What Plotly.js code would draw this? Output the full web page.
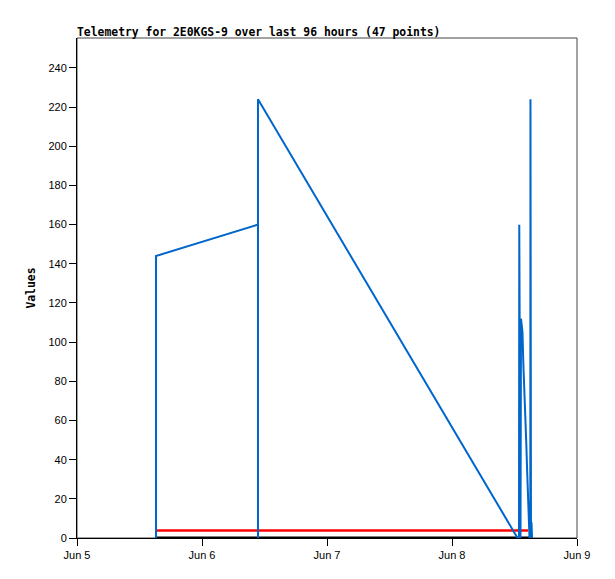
<!DOCTYPE html>
<html>
<head>
<meta charset="utf-8">
<script src="https://cdn.plot.ly/plotly-3.0.1.min.js"></script>
<style>
  html, body { margin: 0; padding: 0; background: #ffffff; }
  #chart { width: 615px; height: 579px; }
</style>
</head>
<body>
<div id="chart"></div>
<script>
// telemetry readings (blue)
const blueTimes = [
  '2024-06-05 15:10', '2024-06-05 15:10', '2024-06-06 10:45', '2024-06-06 10:45',
  '2024-06-06 10:45', '2024-06-08 12:35', '2024-06-08 12:52', '2024-06-08 12:55',
  '2024-06-08 13:09', '2024-06-08 13:15', '2024-06-08 13:32', '2024-06-08 13:41',
  '2024-06-08 13:55', '2024-06-08 14:07', '2024-06-08 14:16', '2024-06-08 14:26',
  '2024-06-08 14:38', '2024-06-08 14:47', '2024-06-08 14:53', '2024-06-08 15:02',
  '2024-06-08 15:04', '2024-06-08 15:10', '2024-06-08 15:16', '2024-06-08 15:22'
];
const blueValues = [
  0, 144, 160, 0,
  224, 0, 0, 160,
  0, 112, 105, 90,
  76, 63, 48, 34,
  20, 6, 0, 0,
  224, 0, 8, 0
];

// red and black channels
const redTimes = ['2024-06-05 15:10', '2024-06-08 14:35'];
const redValues = [3.8, 3.8];
const blackTimes = ['2024-06-05 15:10', '2024-06-08 15:22'];
const blackValues = [0, 0];

// axis setup
const xStart = '2024-06-05';
const xEnd = '2024-06-09';
const yMax = 255.3;
const titleText = 'Telemetry for 2E0KGS-9 over last 96 hours (47 points)';
const yTitle = 'Values';

const traceRed = {
  x: redTimes, y: redValues, type: 'scatter', mode: 'lines',
  line: { color: '#ff0000', width: 2.5 }, hoverinfo: 'skip'
};
const traceBlack = {
  x: blackTimes, y: blackValues, type: 'scatter', mode: 'lines',
  line: { color: '#000000', width: 3 }, hoverinfo: 'skip'
};
const traceBlue = {
  x: blueTimes, y: blueValues, type: 'scatter', mode: 'lines',
  line: { color: '#0066cc', width: 2 }, hoverinfo: 'skip'
};

const tickFont = { family: 'Liberation Sans, sans-serif', size: 11, color: '#000000' };

const layout = {
  width: 615,
  height: 579,
  paper_bgcolor: '#ffffff',
  plot_bgcolor: '#ffffff',
  margin: { l: 77, r: 38, t: 38, b: 41 },
  showlegend: false,
  title: {
    text: titleText,
    font: { family: 'DejaVu Sans Mono, monospace', size: 11.4, color: '#000000', weight: 'bold' },
    x: 0, xref: 'paper', xanchor: 'left',
    y: 1, yref: 'paper', yanchor: 'bottom',
    pad: { b: 2, l: 0, t: 0, r: 0 }
  },
  xaxis: {
    type: 'date',
    range: [xStart, xEnd],
    tick0: xStart,
    dtick: 86400000,
    tickformat: '%b %-d',
    showgrid: false,
    zeroline: false,
    showline: true,
    linecolor: '#000000',
    linewidth: 1,
    ticks: 'outside',
    ticklen: 7,
    tickcolor: '#000000',
    tickfont: tickFont
  },
  yaxis: {
    range: [0, yMax],
    dtick: 20,
    tick0: 0,
    showgrid: false,
    zeroline: false,
    showline: true,
    linecolor: '#000000',
    linewidth: 1,
    ticks: 'outside',
    ticklen: 7,
    tickcolor: '#000000',
    tickfont: tickFont,
    title: {
      text: yTitle,
      font: { family: 'DejaVu Sans Mono, monospace', size: 11.4, color: '#000000', weight: 'bold' },
      standoff: 10
    }
  },
  shapes: [{
    type: 'rect', xref: 'paper', yref: 'paper',
    x0: 0, x1: 1, y0: 0, y1: 1,
    line: { color: '#444444', width: 1 },
    layer: 'below'
  }]
};

Plotly.newPlot('chart', [traceRed, traceBlack, traceBlue], layout, { displayModeBar: false, staticPlot: true });
</script>
</body>
</html>
